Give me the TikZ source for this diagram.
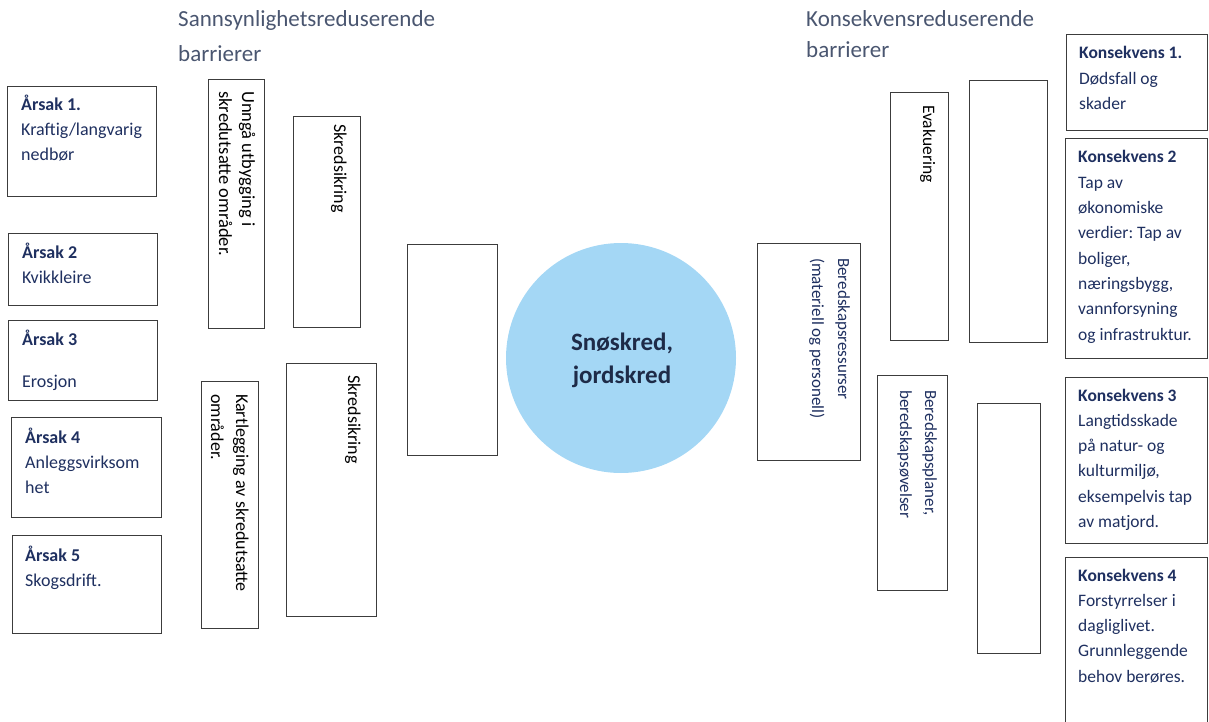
\documentclass[tikz,border=0pt]{standalone}
\usepackage{fontspec}
\setmainfont{Carlito}
\frenchspacing
\definecolor{boxline}{HTML}{3C3C3C}
\definecolor{navy}{HTML}{1F3060}
\definecolor{titlecol}{HTML}{4A5670}
\definecolor{circfill}{HTML}{A4D7F5}
\definecolor{centertxt}{HTML}{1E2B48}
\newcommand{\mybox}[5]{\node[box,anchor=north west,minimum width={(#4-#2)*1pt},minimum height={(#5-#3)*1pt}] (#1) at (#2,#3) {};}
\begin{document}
\begin{tikzpicture}[x=1pt,y=-1pt,
  box/.style={draw=boxline,line width=1.3pt,inner sep=0pt,fill=white},
  title/.style={anchor=base west,inner sep=0pt,text=titlecol,font=\fontsize{23}{33}\selectfont,align=flush left,text width=300pt},
  cause/.style={anchor=base west,inner sep=0pt,text=navy,font=\fontsize{18}{25}\selectfont,align=flush left,text width=140pt},
  cons/.style={anchor=base west,inner sep=0pt,text=navy,font=\fontsize{17.5}{25.3}\selectfont,align=flush left,text width=130pt},
  rot/.style={anchor=base west,inner sep=0pt,rotate=-90,align=flush left,text width=240pt,font=\fontsize{18}{23}\selectfont},
]
\useasboundingbox (0,0) rectangle (1209,722);
% titles
\node[title] (t1) at (178,27) {Sannsynlighetsreduserende\\[2pt]barrierer};
\node[title,font=\fontsize{23}{31}\selectfont] (t2) at (806,27) {Konsekvensreduserende\\barrierer};
% cause boxes
\mybox{a1}{7}{86}{156}{196}
\mybox{a2}{8}{233}{157}{305}
\mybox{a3}{8}{320}{157}{400}
\mybox{a4}{11}{417}{161}{517}
\mybox{a5}{12}{535}{161}{633}
\node[cause] (a1t) at (21,111) {\textbf{Årsak 1.}\\Kraftig/langvarig\\nedbør};
\node[cause] (a2t) at (22,258) {\textbf{Årsak 2}\\Kvikkleire};
\node[cause] (a3t) at (22,345) {\textbf{Årsak 3}\\[17pt]Erosjon};
\node[cause] (a4t) at (25,443) {\textbf{Årsak 4}\\Anleggsvirksom\\het};
\node[cause] (a5t) at (25,561) {\textbf{Årsak 5}\\Skogsdrift.};
% left barriers
\mybox{b1}{208}{79}{264}{328}
\mybox{b2}{293}{116}{360}{327}
\mybox{b3}{201}{381}{258}{628}
\mybox{b4}{286}{363}{376}{616}
\mybox{b5}{407}{244}{497}{455}
\node[rot,font=\fontsize{18.5}{23}\selectfont] (b1t) at (242,91) {Unngå utbygging i\\skredutsatte områder.};
\node[rot] (b2t) at (334,124) {Skredsikring};
\node[rot,font=\fontsize{18}{25}\selectfont] (b3t) at (236,394) {Kartlegging av skredutsatte\\områder.};
\node[rot] (b4t) at (348,375) {Skredsikring};
% center event
\node[circle,fill=circfill,minimum size=230pt,inner sep=0pt] (ev) at (621,358) {};
\node[anchor=base,inner sep=0pt,text=centertxt,font=\fontsize{25}{33}\bfseries\selectfont,align=center] (evt) at (622,383) {Snøskred,\\jordskred};
% right barriers
\mybox{c1}{757}{243}{860}{460}
\mybox{c2}{890}{92}{948}{340}
\mybox{c3}{969}{80}{1047}{342}
\mybox{c4}{877}{375}{947}{590}
\mybox{c5}{977}{403}{1040}{653}
\node[rot,text=navy,font=\fontsize{17}{26}\selectfont] (c1t) at (838,258) {Beredskapsressurser\\(materiell og personell)};
\node[rot,font=\fontsize{17.5}{23}\selectfont] (c2t) at (923,105) {Evakuering};
\node[rot,text=navy,font=\fontsize{17}{25}\selectfont] (c4t) at (925,390) {Beredskapsplaner,\\beredskapsøvelser};
% consequence boxes
\mybox{k1}{1066}{34}{1207}{130}
\mybox{k2}{1065}{138}{1207}{358}
\mybox{k3}{1065}{377}{1207}{543}
\mybox{k4}{1065}{557}{1207}{740}
\node[cons] (k1t) at (1079,59) {\textbf{Konsekvens 1.}\\Dødsfall og\\skader};
\node[cons] (k2t) at (1078,163) {\textbf{Konsekvens 2}\\Tap av\\økonomiske\\verdier: Tap av\\boliger,\\næringsbygg,\\vannforsyning\\og infrastruktur.};
\node[cons] (k3t) at (1078,401) {\textbf{Konsekvens 3}\\Langtidsskade\\på natur- og\\kulturmiljø,\\eksempelvis tap\\av matjord.};
\node[cons] (k4t) at (1078,581) {\textbf{Konsekvens 4}\\Forstyrrelser i\\dagliglivet.\\Grunnleggende\\behov berøres.};
\end{tikzpicture}
\end{document}
